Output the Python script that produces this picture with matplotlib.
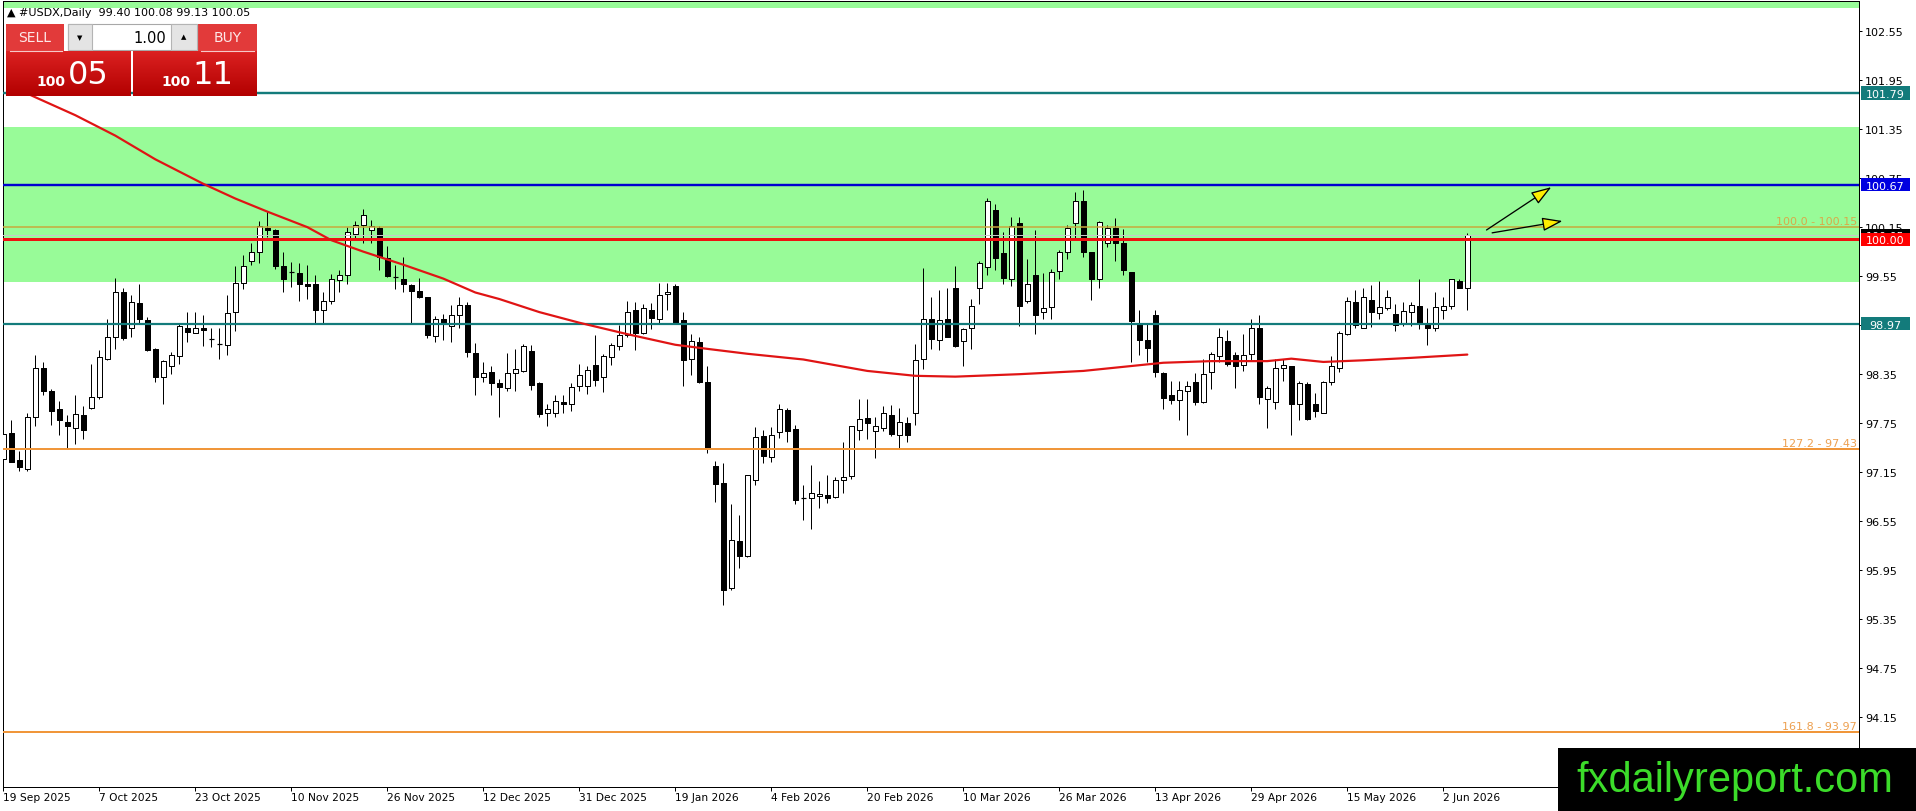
import matplotlib
matplotlib.use("Agg")
import matplotlib.pyplot as plt
import matplotlib.transforms as mtransforms
from matplotlib.patches import Rectangle, FancyArrowPatch
from matplotlib.collections import PatchCollection, LineCollection
import numpy as np

# ---------------- data ----------------
opens = [97.31, 97.63, 97.30, 97.19, 97.82, 98.43, 98.14, 97.92, 97.77, 97.69,
         97.85, 97.94, 98.07, 98.54, 98.80, 99.35, 98.92, 99.22, 99.01, 98.66,
         98.31, 98.45, 98.57, 98.92, 98.86, 98.91, 98.78, 98.72, 98.71, 99.11,
         99.47, 99.73, 99.84, 100.14, 100.12, 99.67, 99.60, 99.59, 99.45, 99.45,
         99.14, 99.24, 99.50, 99.57, 100.07, 100.18, 100.11, 100.14, 99.77, 99.54,
         99.52, 99.44, 99.37, 99.30, 98.82, 99.02, 98.94, 99.07, 99.20, 98.61,
         98.31, 98.38, 98.24, 98.18, 98.36, 98.39, 98.63, 98.24, 97.88, 97.88,
         98.01, 97.99, 98.20, 98.20, 98.46, 98.31, 98.56, 98.69, 98.83, 99.14,
         98.86, 99.14, 99.02, 99.33, 99.43, 99.01, 98.53, 98.75, 98.26, 97.23,
         97.02, 95.73, 96.31, 96.12, 97.06, 97.59, 97.34, 97.64, 97.91, 97.68,
         96.83, 96.84, 96.86, 96.87, 96.85, 97.06, 97.10, 97.67, 97.81, 97.66,
         97.69, 97.85, 97.61, 97.75, 97.88, 98.54, 99.03, 98.77, 99.03, 99.41,
         98.76, 98.91, 99.41, 99.66, 100.36, 99.83, 99.52, 100.20, 99.25, 99.56,
         99.11, 99.17, 99.61, 99.84, 100.20, 100.47, 99.84, 99.51, 99.96, 100.14,
         99.95, 99.60, 98.96, 98.77, 99.07, 98.37, 98.09, 98.04, 98.15, 98.26,
         98.01, 98.38, 98.57, 98.76, 98.58, 98.46, 98.60, 98.91, 98.05, 98.01,
         98.42, 98.45, 97.98, 98.23, 97.99, 97.88, 98.26, 98.43, 98.84, 99.23,
         98.92, 99.26, 99.10, 99.16, 99.09, 98.96, 99.11, 99.18, 98.95, 98.92,
         99.14, 99.19, 99.49, 99.40]

highs = [97.78, 97.79, 97.41, 97.88, 98.58, 98.50, 98.17, 98.02, 97.85, 98.09,
         97.96, 98.47, 98.64, 99.03, 99.53, 99.41, 99.32, 99.45, 99.05, 98.67,
         98.52, 98.62, 98.96, 99.11, 99.11, 99.08, 98.91, 98.92, 99.32, 99.68,
         99.81, 99.96, 100.22, 100.35, 100.13, 99.84, 99.72, 99.71, 99.69, 99.56,
         99.36, 99.58, 99.62, 100.15, 100.23, 100.37, 100.24, 100.17, 99.92, 99.69,
         99.79, 99.45, 99.53, 99.30, 99.06, 99.09, 99.20, 99.29, 99.23, 98.73,
         98.50, 98.45, 98.29, 98.61, 98.66, 98.72, 98.71, 98.25, 97.98, 98.10,
         98.10, 98.24, 98.47, 98.45, 98.83, 98.60, 98.73, 98.95, 99.24, 99.23,
         99.21, 99.22, 99.47, 99.47, 99.45, 99.11, 98.84, 98.80, 98.45, 97.29,
         97.26, 96.76, 96.63, 97.12, 97.70, 97.67, 97.70, 97.99, 97.94, 97.73,
         96.99, 97.24, 97.04, 97.12, 97.09, 97.52, 97.72, 98.05, 98.05, 97.82,
         97.96, 97.97, 97.94, 97.82, 98.72, 99.65, 99.29, 99.38, 99.40, 99.67,
         98.91, 99.27, 99.74, 100.51, 100.43, 100.09, 100.28, 100.28, 99.76, 100.11,
         99.59, 99.64, 99.87, 100.18, 100.58, 100.60, 99.85, 100.22, 100.18, 100.26,
         100.13, 99.60, 99.13, 98.96, 99.14, 98.38, 98.27, 98.27, 98.27, 98.36,
         98.53, 98.62, 98.92, 98.89, 98.62, 98.84, 99.03, 99.07, 98.21, 98.54,
         98.54, 98.45, 98.27, 98.26, 98.12, 98.27, 98.57, 98.88, 99.30, 99.38,
         99.40, 99.44, 99.49, 99.38, 99.21, 99.23, 99.23, 99.52, 99.16, 99.35,
         99.30, 99.52, 99.52, 100.08]

lows = [97.23, 97.27, 97.17, 97.17, 97.72, 98.09, 97.73, 97.60, 97.45, 97.49,
        97.56, 97.92, 98.05, 98.52, 98.66, 98.77, 98.80, 98.98, 98.63, 98.26,
        97.99, 98.35, 98.47, 98.75, 98.85, 98.70, 98.68, 98.53, 98.59, 98.88,
        99.39, 99.69, 99.71, 100.03, 99.64, 99.36, 99.42, 99.25, 99.27, 98.98,
        98.98, 99.21, 99.36, 99.45, 100.01, 99.96, 99.96, 99.62, 99.54, 99.39,
        99.35, 98.98, 99.28, 98.79, 98.74, 98.77, 98.75, 98.91, 98.56, 98.09,
        98.25, 98.10, 97.83, 98.15, 98.14, 98.38, 98.16, 97.82, 97.71, 97.82,
        97.88, 97.90, 98.15, 98.11, 98.21, 98.13, 98.46, 98.64, 98.80, 98.64,
        98.84, 98.90, 98.98, 99.13, 98.97, 98.21, 98.34, 98.24, 97.39, 96.78,
        95.52, 95.71, 95.98, 96.11, 96.99, 97.26, 97.28, 97.57, 97.52, 96.76,
        96.57, 96.46, 96.71, 96.77, 96.84, 96.90, 97.07, 97.54, 97.56, 97.33,
        97.66, 97.59, 97.45, 97.52, 97.73, 98.41, 98.66, 98.64, 98.80, 98.68,
        98.45, 98.66, 99.21, 99.56, 99.62, 99.45, 99.43, 98.94, 99.22, 98.84,
        99.02, 99.03, 99.52, 99.76, 100.01, 99.78, 99.26, 99.41, 99.91, 99.73,
        99.57, 98.50, 98.59, 98.50, 98.32, 97.92, 97.98, 97.79, 97.60, 97.97,
        98.00, 98.17, 98.50, 98.45, 98.18, 98.39, 98.52, 97.98, 97.69, 97.93,
        98.27, 97.60, 97.79, 97.79, 97.82, 97.87, 98.22, 98.38, 98.83, 98.91,
        98.91, 98.93, 99.02, 99.13, 98.88, 98.94, 98.94, 98.90, 98.71, 98.88,
        99.02, 99.15, 99.40, 99.13]

closes = [97.62, 97.28, 97.21, 97.83, 98.42, 98.15, 97.90, 97.79, 97.71, 97.86,
          97.67, 98.07, 98.56, 98.81, 99.36, 98.79, 99.23, 99.02, 98.64, 98.32,
          98.51, 98.59, 98.94, 98.87, 98.91, 98.89, 98.78, 98.71, 99.10, 99.47,
          99.68, 99.84, 100.17, 100.12, 99.68, 99.52, 99.59, 99.45, 99.43, 99.13,
          99.24, 99.51, 99.56, 100.09, 100.18, 100.30, 100.16, 99.79, 99.55, 99.53,
          99.45, 99.37, 99.29, 98.83, 99.02, 98.98, 99.08, 99.20, 98.62, 98.32,
          98.36, 98.24, 98.19, 98.37, 98.41, 98.69, 98.22, 97.86, 97.93, 98.02,
          97.98, 98.19, 98.34, 98.40, 98.28, 98.57, 98.71, 98.83, 99.11, 98.86,
          99.16, 99.04, 99.32, 99.35, 98.98, 98.52, 98.76, 98.26, 97.43, 97.00,
          95.71, 96.32, 96.13, 97.12, 97.58, 97.35, 97.60, 97.93, 97.65, 96.81,
          96.83, 96.89, 96.88, 96.84, 97.06, 97.09, 97.71, 97.80, 97.75, 97.71,
          97.87, 97.62, 97.76, 97.61, 98.52, 99.02, 98.78, 99.01, 98.81, 98.69,
          98.90, 99.18, 99.71, 100.47, 99.77, 99.53, 100.17, 99.19, 99.46, 99.08,
          99.16, 99.60, 99.85, 100.14, 100.47, 99.85, 99.52, 100.21, 100.14, 99.96,
          99.63, 99.00, 98.77, 98.67, 98.38, 98.06, 98.04, 98.16, 98.20, 98.01,
          98.35, 98.60, 98.80, 98.48, 98.45, 98.59, 98.92, 98.07, 98.18, 98.43,
          98.46, 97.99, 98.24, 97.80, 97.90, 98.26, 98.45, 98.85, 99.24, 98.95,
          99.29, 99.11, 99.17, 99.29, 98.95, 99.12, 99.20, 98.97, 98.91, 99.17,
          99.18, 99.52, 99.41, 100.05]

assert len(opens) == len(highs) == len(lows) == len(closes) == 184

# moving average (read at selected bars)
ma_bars = [2, 4, 9, 14, 19, 25, 29, 33, 38, 41, 45, 50, 55, 59, 62, 67, 72, 78,
           84, 88, 93, 100, 108, 114, 119, 127, 135, 145, 151, 158, 161, 165,
           170, 176, 183]
ma_vals = [101.83, 101.74, 101.52, 101.27, 100.98, 100.68, 100.50, 100.34,
           100.15, 99.99, 99.85, 99.69, 99.52, 99.35, 99.27, 99.11, 98.98,
           98.84, 98.71, 98.66, 98.60, 98.53, 98.39, 98.33, 98.32, 98.35,
           98.39, 98.49, 98.51, 98.51, 98.54, 98.50, 98.52, 98.55, 98.59]

date_label_bars = [0, 12, 24, 36, 48, 60, 72, 84, 96, 108, 120, 132, 144, 156, 168, 180]
date_labels = ["19 Sep 2025", "7 Oct 2025", "23 Oct 2025", "10 Nov 2025",
               "26 Nov 2025", "12 Dec 2025", "31 Dec 2025", "19 Jan 2026",
               "4 Feb 2026", "20 Feb 2026", "10 Mar 2026", "26 Mar 2026",
               "13 Apr 2026", "29 Apr 2026", "15 May 2026", "2 Jun 2026"]

price_ticks = [102.55, 101.95, 101.35, 100.75, 100.15, 99.55, 98.95, 98.35,
               97.75, 97.15, 96.55, 95.95, 95.35, 94.75, 94.15]
hidden_ticks = [98.95]  # fully covered by the 98.97 price box in the reference

zone_main = (99.48, 101.37)
zone_top = (102.83, 103.50)
res_1 = 101.79
res_2 = 100.67
fib_100 = 100.15
level_100 = 100.00
bid = 100.05
sup_1 = 98.97
fib_127 = 97.43
fib_161 = 93.97

arrow_1 = ((185.4, 100.115), (193.5, 100.64))
arrow_2 = ((186.1, 100.08), (194.9, 100.225))

header = "\u25B2 #USDX,Daily  99.40 100.08 99.13 100.05"

# ---------------- figure ----------------
W, H = 1916, 812
fig = plt.figure(figsize=(W / 100, H / 100), dpi=100)
fig.patch.set_facecolor("white")
L_px, R_px, T_px, B_px = 3, 1859, 2, 788
ax = fig.add_axes([L_px / W, (H - B_px) / H, (R_px - L_px) / W, (B_px - T_px) / H])
ax.set_facecolor("white")
ax.set_xlim(-0.04, 231.96)
ax.set_ylim(93.297, 102.918)

PX = 0.72  # points per pixel

# zones
ax.axhspan(*zone_main, color="#98fb98", zorder=0, lw=0)
ax.axhspan(*zone_top, color="#98fb98", zorder=0, lw=0)

# candles
n = len(opens)
w = 0.56
segs = [[(i, lows[i]), (i, highs[i])] for i in range(n)]
ax.add_collection(LineCollection(segs, colors="black", linewidths=1.0 * PX, zorder=2))
rects_w, rects_b, dojis = [], [], []
for i in range(n):
    o, c = opens[i], closes[i]
    if abs(c - o) < 0.012:
        dojis.append([(i - w / 2, o), (i + w / 2, o)])
    elif c > o:
        rects_w.append(Rectangle((i - w / 2, o), w, c - o))
    else:
        rects_b.append(Rectangle((i - w / 2, c), w, o - c))
ax.add_collection(PatchCollection(rects_w, facecolor="white", edgecolor="black",
                                  linewidths=1.0 * PX, zorder=3))
ax.add_collection(PatchCollection(rects_b, facecolor="black", edgecolor="black",
                                  linewidths=1.0 * PX, zorder=3))
ax.add_collection(LineCollection(dojis, colors="black", linewidths=1.2 * PX, zorder=3))

# horizontal levels (drawn over candles like MT4 objects)
ax.axhline(res_1, color="#137b7b", lw=2.4 * PX, zorder=4)
ax.axhline(res_2, color="#0000d0", lw=2.4 * PX, zorder=4)
ax.axhline(fib_100, color="#c9a83a", lw=1.5 * PX, zorder=4)
ax.axhline(bid, color="#c8c8c8", lw=1.0 * PX, zorder=4)
ax.axhline(level_100, color="#ee1010", lw=3.0 * PX, zorder=4)
ax.axhline(sup_1, color="#137b7b", lw=2.2 * PX, zorder=4)
ax.axhline(fib_127, color="#f0963a", lw=2.0 * PX, zorder=4)
ax.axhline(fib_161, color="#f0963a", lw=2.0 * PX, zorder=4)

# moving average
ax.plot(ma_bars, ma_vals, color="#e01414", lw=2.2 * PX, zorder=5,
        solid_capstyle="round", solid_joinstyle="round")

# fib labels
for lvl, txt, col in [(fib_100, "100.0 - 100.15", "#d8aa4a"),
                      (fib_127, "127.2 - 97.43", "#eda050"),
                      (fib_161, "161.8 - 93.97", "#eda050")]:
    ax.annotate(txt, xy=(1, lvl), xycoords=("axes fraction", "data"),
                xytext=(-1.5, 2.2), textcoords="offset points",
                ha="right", va="baseline", fontsize=8, color=col, zorder=6)

# arrows
for (p0, p1) in (arrow_1, arrow_2):
    arr = FancyArrowPatch(p0, p1, arrowstyle="-|>,head_length=1.25,head_width=0.42",
                          mutation_scale=10, fc="#ffee00", ec="black", lw=1.3 * PX,
                          shrinkA=0, shrinkB=0, zorder=7)
    ax.add_patch(arr)

# spines & ticks
for s in ax.spines.values():
    s.set_color("black")
    s.set_linewidth(1.0 * PX)
ax.yaxis.tick_right()
ax.set_yticks(price_ticks)
ax.set_yticklabels(["" if v in hidden_ticks else "%.2f" % v for v in price_ticks])
ax.tick_params(axis="y", direction="out", length=3 * PX, width=1.0 * PX,
               labelsize=8, pad=3 * PX, colors="black")
ax.set_xticks(date_label_bars)
ax.set_xticklabels(date_labels)
ax.tick_params(axis="x", direction="out", length=4 * PX, width=1.0 * PX,
               labelsize=7.7, pad=1.0, colors="black")
for lab in ax.get_xticklabels():
    lab.set_ha("left")

# right-hand price boxes (later ones drawn on top of earlier ones)
trans = mtransforms.blended_transform_factory(ax.transAxes, ax.transData)
ax_w = R_px - L_px
ppu = (B_px - T_px) / (102.918 - 93.297)  # pixels per price unit
bx0 = (1861 - L_px) / ax_w
bx1 = (1910 - L_px) / ax_w
bh = 13.5 / ppu
z = 8
for lvl, col, txt in [(res_1, "#137b7b", "101.79"), (res_2, "#0000e0", "100.67"),
                      (bid, "#000000", "100.05"), (level_100, "#ff0000", "100.00"),
                      (sup_1, "#137b7b", "98.97")]:
    ax.add_patch(Rectangle((bx0, lvl - bh / 2), bx1 - bx0, bh, transform=trans,
                           facecolor=col, edgecolor="none", clip_on=False, zorder=z))
    ax.text((bx0 + bx1) / 2, lvl, txt, transform=trans, ha="center",
            va="center_baseline", fontsize=8, color="white", clip_on=False, zorder=z + 0.5)
    z += 1

# ---------------- overlay (trade panel, header, watermark) ----------------
ov = fig.add_axes([0, 0, 1, 1], zorder=20)
ov.set_xlim(0, W)
ov.set_ylim(H, 0)
ov.axis("off")
ov.patch.set_alpha(0)

ov.text(7, 13, header, fontsize=8, color="black", va="center", ha="left")

btn_red = "#e23a3a"
ov.add_patch(Rectangle((6, 25), 58, 27, facecolor=btn_red, edgecolor="none"))
ov.add_patch(Rectangle((198, 25), 59, 27, facecolor=btn_red, edgecolor="none"))
ov.plot([10, 62], [52, 52], color="#f6c8c8", lw=0.8)
ov.plot([201, 254], [52, 52], color="#f6c8c8", lw=0.8)
ov.text(35, 38.5, "SELL", fontsize=10, color="#fde8e8", ha="center", va="center")
ov.text(228, 38.5, "BUY", fontsize=10, color="#fde8e8", ha="center", va="center")

ov.add_patch(Rectangle((68, 25), 129, 26, facecolor="white", edgecolor="#a8a8a8", lw=0.8))
ov.add_patch(Rectangle((68, 25), 24, 26, facecolor="#e4e4e4", edgecolor="#b4b4b4", lw=0.8))
ov.add_patch(Rectangle((171, 25), 26, 26, facecolor="#e4e4e4", edgecolor="#b4b4b4", lw=0.8))
ov.text(80, 38.5, "\u25BC", fontsize=5, color="black", ha="center", va="center")
ov.text(184, 37.5, "\u25B2", fontsize=5, color="black", ha="center", va="center")
ov.text(166, 38.5, "1.00", fontsize=10.5, color="black", ha="right", va="center")

grad = np.linspace(0, 1, 50).reshape(-1, 1)
top_c = np.array([0.86, 0.13, 0.13])
bot_c = np.array([0.70, 0.0, 0.0])
img = top_c[None, None, :] * (1 - grad[:, :, None]) + bot_c[None, None, :] * grad[:, :, None]
ov.imshow(img, extent=(6, 131, 97, 52), aspect="auto", zorder=1)
ov.imshow(img, extent=(133, 257, 97, 52), aspect="auto", zorder=1)
ov.set_xlim(0, W)
ov.set_ylim(H, 0)
ov.text(50.5, 82, "100", fontsize=10, fontweight="bold", color="white", ha="center", va="center", zorder=3)
ov.text(88, 75, "05", fontsize=23, color="white", ha="center", va="center", zorder=3)
ov.text(176, 82, "100", fontsize=10, fontweight="bold", color="white", ha="center", va="center", zorder=3)
ov.text(213, 75, "11", fontsize=23, color="white", ha="center", va="center", zorder=3)

# watermark
ov.add_patch(Rectangle((1558, 749), W - 1558, H - 749, facecolor="black", edgecolor="none", zorder=4))
ov.text(1576, 781, "fxdailyreport.com", fontsize=30, family="Liberation Sans",
        color="#3cdc2a", ha="left", va="center", zorder=5)

fig.savefig("out.png", dpi=100, facecolor="white")
